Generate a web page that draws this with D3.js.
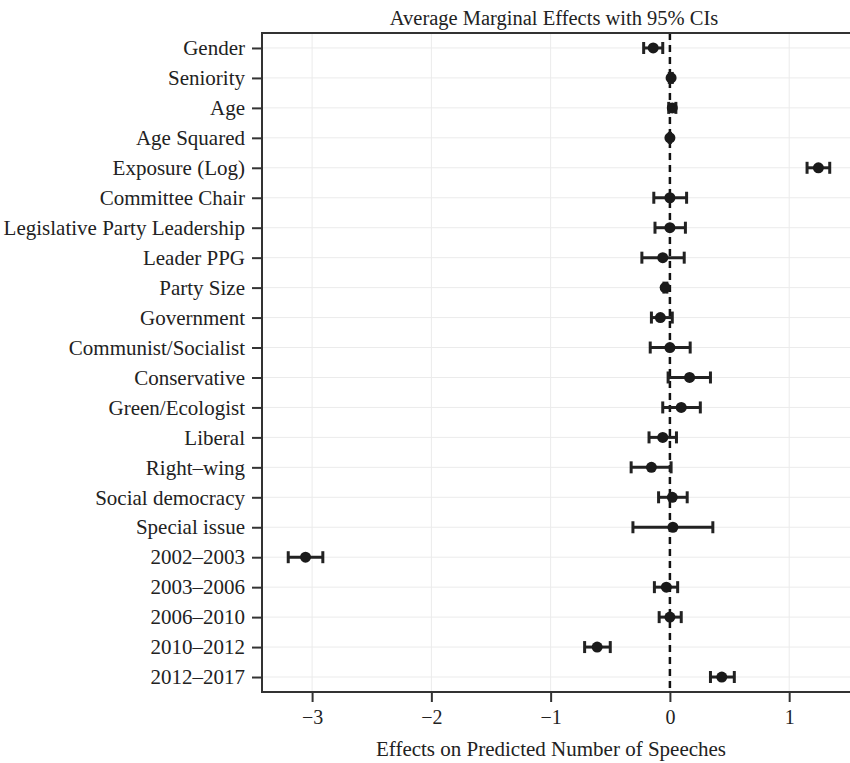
<!DOCTYPE html>
<html>
<head>
<meta charset="utf-8">
<script src="https://cdn.jsdelivr.net/npm/d3@7"></script>
<style>
  body { margin: 0; background: #fff; }
  svg text { font-family: "Liberation Serif", "DejaVu Serif", serif; fill: #222; }
</style>
</head>
<body>
<div id="chart"></div>
<script>
// values
const terms = ["Gender", "Seniority", "Age", "Age Squared", "Exposure (Log)", "Committee Chair",
  "Legislative Party Leadership", "Leader PPG", "Party Size", "Government ", "Communist/Socialist",
  "Conservative", "Green/Ecologist", "Liberal", "Right\u2013wing", "Social democracy", "Special issue",
  "2002\u20132003", "2003\u20132006", "2006\u20132010", "2010\u20132012", "2012\u20132017"]
const effect = [-0.14, 0.01, 0.02, 0.0, 1.245, 0.0, 0.0, -0.06, -0.04, -0.08, 0.0,
  0.165, 0.095, -0.06, -0.155, 0.02, 0.025, -3.055, -0.03, 0.0, -0.61, 0.435]
const lower = [-0.22, -0.005, -0.01, -0.005, 1.15, -0.135, -0.125, -0.235, -0.05, -0.155, -0.165,
  -0.015, -0.06, -0.175, -0.325, -0.095, -0.31, -3.2, -0.13, -0.09, -0.715, 0.34]
const upper = [-0.06, 0.02, 0.05, 0.005, 1.34, 0.14, 0.13, 0.12, -0.025, 0.02, 0.17,
  0.34, 0.255, 0.055, 0.01, 0.145, 0.36, -2.91, 0.065, 0.095, -0.5, 0.54]
const xTicks = [-3, -2, -1, 0, 1]

const rows = terms.map((t, i) => ({term: t, est: effect[i], lo: lower[i], hi: upper[i]}))

const W = 850, H = 763
const padL = 262, padR = 850, padT = 33, padB = 692

const svg = d3.select('#chart').append('svg')
  .attr('width', W)
  .attr('height', H)

const x = d3.scaleLinear().domain([-3.42, 1.51]).range([padL, padR])
const y = d3.scalePoint().domain(terms).range([padT, padB]).padding(0.5)

// grid
svg.append('g').selectAll('line')
  .data(xTicks)
  .join('line')
    .attr('x1', d => x(d)).attr('x2', d => x(d))
    .attr('y1', padT).attr('y2', padB)
    .attr('stroke', '#ebebeb').attr('stroke-width', 1)
svg.append('g').selectAll('line')
  .data(terms)
  .join('line')
    .attr('x1', padL).attr('x2', padR)
    .attr('y1', d => y(d)).attr('y2', d => y(d))
    .attr('stroke', '#ebebeb').attr('stroke-width', 1)

// zero reference
svg.append('line')
  .attr('x1', x(0)).attr('x2', x(0))
  .attr('y1', padT).attr('y2', padB)
  .attr('stroke', '#111').attr('stroke-width', 2.5)
  .attr('stroke-dasharray', '7,5')

// axes
const xAxis = svg.append('g')
  .attr('transform', `translate(0,${padB})`)
  .call(d3.axisBottom(x).tickValues(xTicks).tickFormat(d3.format('d')).tickSize(10).tickPadding(8))
const yAxis = svg.append('g')
  .attr('transform', `translate(${padL},0)`)
  .call(d3.axisLeft(y).tickSize(10).tickPadding(7))
for (const g of [xAxis, yAxis]) {
  g.select('.domain').remove()
  g.selectAll('.tick line').attr('stroke', '#333').attr('stroke-width', 2)
  g.selectAll('.tick text').attr('fill', '#222')
}
xAxis.selectAll('.tick text').style('font-size', '20px')
yAxis.selectAll('.tick text').style('font-size', '21px')

// panel border
svg.append('rect')
  .attr('x', padL).attr('y', padT)
  .attr('width', padR - padL + 4).attr('height', padB - padT)
  .attr('fill', 'none').attr('stroke', '#333').attr('stroke-width', 2)

// error bars
const bars = svg.append('g').selectAll('g')
  .data(rows)
  .join('g')
    .attr('stroke', '#222').attr('stroke-width', 3)
bars.append('line')
  .attr('x1', d => x(d.lo)).attr('x2', d => x(d.hi))
  .attr('y1', d => y(d.term)).attr('y2', d => y(d.term))
bars.append('line')
  .attr('x1', d => x(d.lo)).attr('x2', d => x(d.lo))
  .attr('y1', d => y(d.term) - 6).attr('y2', d => y(d.term) + 6)
bars.append('line')
  .attr('x1', d => x(d.hi)).attr('x2', d => x(d.hi))
  .attr('y1', d => y(d.term) - 6).attr('y2', d => y(d.term) + 6)

svg.append('g').selectAll('circle')
  .data(rows)
  .join('circle')
    .attr('cx', d => x(d.est))
    .attr('cy', d => y(d.term))
    .attr('r', 5.5)
    .attr('fill', '#1a1a1a')

// titles
svg.append('text')
  .attr('x', (padL + padR) / 2 - 2).attr('y', 25)
  .attr('text-anchor', 'middle')
  .style('font-size', '20.5px')
  .text('Average Marginal Effects with 95% CIs')
svg.append('text')
  .attr('x', (padL + padR) / 2 - 5).attr('y', 756)
  .attr('text-anchor', 'middle')
  .style('font-size', '21px')
  .text('Effects on Predicted Number of Speeches')
</script>
</body>
</html>
